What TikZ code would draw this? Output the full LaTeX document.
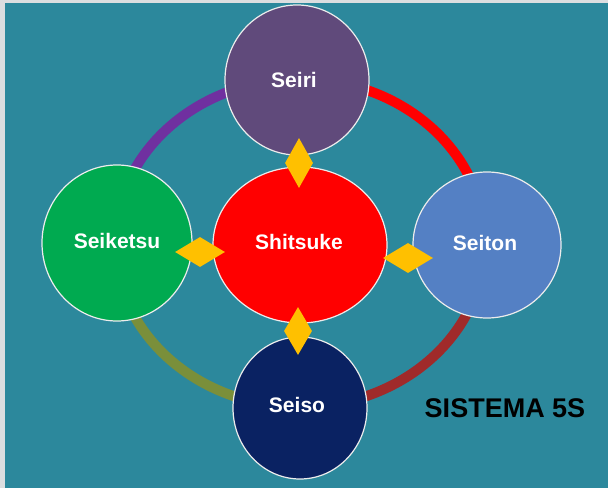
\documentclass[tikz,border=0pt]{standalone}
\usepackage{fontspec}
\setmainfont{Liberation Sans}
\usetikzlibrary{shapes.geometric}
\definecolor{bgteal}{RGB}{44,136,156}
\definecolor{edgegray}{RGB}{220,222,224}
\definecolor{seiricol}{RGB}{96,74,123}
\definecolor{seitoncol}{RGB}{84,128,196}
\definecolor{seiketsucol}{RGB}{0,170,80}
\definecolor{seisocol}{RGB}{10,34,98}
\definecolor{diacol}{RGB}{255,192,0}
\definecolor{ringpurple}{RGB}{112,48,160}
\definecolor{ringred}{RGB}{255,0,0}
\definecolor{ringdark}{RGB}{160,42,42}
\definecolor{ringolive}{RGB}{122,143,58}
\tikzset{
  sball/.style={ellipse, draw=white!85!gray, line width=1.2pt, inner sep=0pt,
    text=white, font=\fontsize{21}{24}\selectfont\bfseries},
  dia/.style={diamond, fill=diacol, draw=none, inner sep=0pt},
  ring/.style={line width=10pt}
}
\begin{document}
\begin{tikzpicture}[x=1pt,y=1pt]
\useasboundingbox (0,0) rectangle (608,488);
\fill[edgegray] (0,0) rectangle (608,488);
\fill[bgteal] (5,0) rectangle (608,485);
% ring
\coordinate (rc) at (300,245);
\draw[ring, ringred] ([shift={(0:185pt and 164pt)}]rc) arc[start angle=0, end angle=90, x radius=185pt, y radius=164pt];
\draw[ring, ringpurple] ([shift={(90:185pt and 164pt)}]rc) arc[start angle=90, end angle=180, x radius=185pt, y radius=164pt];
\draw[ring, ringolive] ([shift={(180:185pt and 164pt)}]rc) arc[start angle=180, end angle=270, x radius=185pt, y radius=164pt];
\draw[ring, ringdark] ([shift={(270:185pt and 164pt)}]rc) arc[start angle=270, end angle=360, x radius=185pt, y radius=164pt];
% circles
\node[sball, fill=seiricol, minimum width=144pt, minimum height=150pt] (seiri) at (297,408) {};
\node[sball, fill=red, minimum width=174pt, minimum height=156pt] (shitsuke) at (300,243) {};
\node[sball, fill=seitoncol, minimum width=148pt, minimum height=146pt] (seiton) at (487,243) {};
\node[sball, fill=seiketsucol, minimum width=150pt, minimum height=156pt] (seiketsu) at (117,245) {};
\node[sball, fill=seisocol, minimum width=134pt, minimum height=142pt] (seiso) at (300,80) {};
% labels
\node[text=white, font=\fontsize{21}{24}\selectfont\bfseries] (tseiri) at (294,408) {Seiri};
\node[text=white, font=\fontsize{21}{24}\selectfont\bfseries] (tshitsuke) at (299,246) {Shitsuke};
\node[text=white, font=\fontsize{21}{24}\selectfont\bfseries] (tseiton) at (485,245) {Seiton};
\node[text=white, font=\fontsize{21}{24}\selectfont\bfseries] (tseiketsu) at (117,247) {Seiketsu};
\node[text=white, font=\fontsize{21}{24}\selectfont\bfseries] (tseiso) at (297,83) {Seiso};
% diamonds
\node[dia, minimum width=28pt, minimum height=50pt] (dtop) at (299,325) {};
\node[dia, minimum width=28pt, minimum height=48pt] (dbot) at (298,157) {};
\node[dia, minimum width=50pt, minimum height=30pt] (dright) at (408,230) {};
\node[dia, minimum width=50pt, minimum height=30pt] (dleft) at (200,236) {};
% title
\node[text=black, font=\fontsize{27}{30}\selectfont\bfseries] (title) at (505,80) {SISTEMA 5S};
\end{tikzpicture}
\end{document}
